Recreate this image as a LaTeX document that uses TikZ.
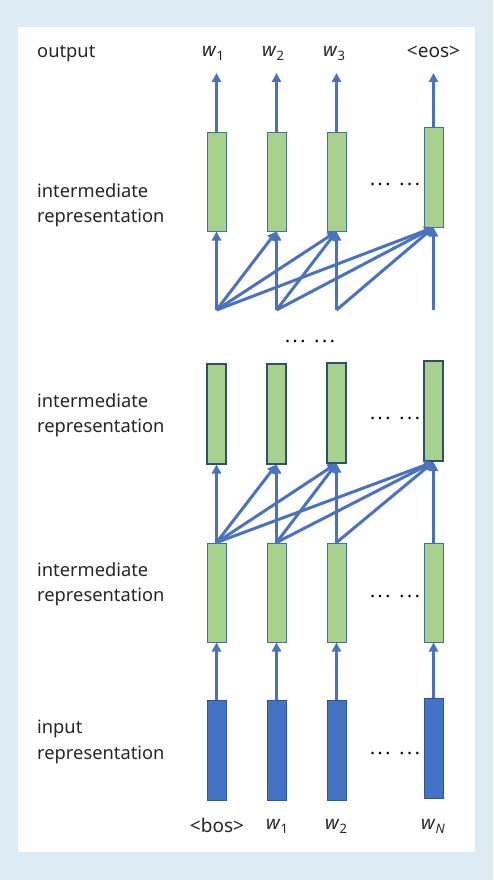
\documentclass[tikz,border=0pt]{standalone}
\usepackage{fontspec}
\setmainfont{Noto Sans}
\usetikzlibrary{arrows.meta}
\definecolor{bg}{HTML}{DDEBF5}
\definecolor{arr}{HTML}{4A72BE}
\definecolor{grn}{HTML}{A9D18E}
\definecolor{bord}{HTML}{41719C}
\definecolor{dbord}{HTML}{2F4F6F}
\definecolor{inp}{HTML}{4472C4}
\definecolor{inpb}{HTML}{2F5597}
\definecolor{txt}{HTML}{262626}
\tikzset{
  box/.style={rectangle, minimum width=19pt, minimum height=99pt, inner sep=0pt, fill=grn, draw=bord, line width=1pt},
  dbox/.style={box, draw=dbord, line width=2pt, minimum height=100pt},
  ibox/.style={rectangle, minimum width=19pt, minimum height=100pt, inner sep=0pt, fill=inp, draw=inpb, line width=0.8pt},
  conn/.style={draw=arr, line width=3pt, -{Triangle[width=9pt,length=9pt]}},
  lbl/.style={anchor=west, align=left, text=txt, font=\fontsize{18.3}{25.5}\selectfont, inner sep=0pt},
  wl/.style={text=txt, font=\fontsize{19}{22}\selectfont, inner sep=0pt},
  dots/.style={text=black, font=\fontsize{19}{20}\selectfont\bfseries, inner sep=0pt}
}
\newcommand{\wsub}[1]{\textit{w}\raisebox{-4pt}{\fontsize{13}{13}\selectfont #1}}
\newcommand{\dotgrp}{.\kern2.6pt.\kern2.6pt.}
\begin{document}
\begin{tikzpicture}[x=1pt,y=-1pt]
\fill[bg] (0,0) rectangle (493,880);
\fill[white] (18,27) rectangle (475,852);
\useasboundingbox (0,0) rectangle (493,880);

% left labels
\node[lbl] (lo) at (37,54) {output};
\node[lbl] (l1t) at (37,205) {intermediate\\representation};
\node[lbl] (l2t) at (37,415) {intermediate\\representation};
\node[lbl] (l3t) at (37,584) {intermediate\\representation};
\node[lbl] (l4t) at (37,742) {input\\representation};

% top boxes
\node[box] (t1) at (216.5,181.5) {};
\node[box] (t2) at (276.5,181.5) {};
\node[box] (t3) at (336.5,181.5) {};
\node[box] (t4) at (433.5,177.5) {};
% upper-mid boxes
\node[dbox] (u1) at (216.5,413.5) {};
\node[dbox] (u2) at (276.5,413.5) {};
\node[dbox] (u3) at (336.5,412.5) {};
\node[dbox] (u4) at (433.5,411) {};
% lower-mid boxes
\node[box] (m1) at (216.5,592.5) {};
\node[box] (m2) at (276.5,592.5) {};
\node[box] (m3) at (336.5,592.5) {};
\node[box] (m4) at (433.5,592.5) {};
% input boxes
\node[ibox] (i1) at (216.5,750) {};
\node[ibox] (i2) at (276.5,750) {};
\node[ibox] (i3) at (336.5,750) {};
\node[ibox] (i4) at (433.5,748) {};

% output labels
\node[wl] (w1) at (213,53) {\wsub{1}};
\node[wl] (w2) at (273,53) {\wsub{2}};
\node[wl] (w3) at (334,53) {\wsub{3}};
\node[wl] (weos) at (433.5,52) {<eos>};
% input labels
\node[wl] (bos) at (217,825) {<bos>};
\node[wl] (x1) at (277,826) {\wsub{1}};
\node[wl] (x2) at (336,826) {\wsub{2}};
\node[wl] (xn) at (433,826) {\wsub{\textit{N}}};

% output arrow endpoints
\coordinate (o1) at (216.5,73);
\coordinate (o2) at (276.5,73);
\coordinate (o3) at (336.5,73);
\coordinate (o4) at (433.5,73);
\draw[conn] (t1.north) -- (o1);
\draw[conn] (t2.north) -- (o2);
\draw[conn] (t3.north) -- (o3);
\draw[conn] (t4.north) -- (o4);

% sources below top boxes
\coordinate (s1) at (216.5,310);
\coordinate (s2) at (276.5,310);
\coordinate (s3) at (336.5,310);
\coordinate (s4) at (433.5,310);
\foreach \a/\b in {1/1,1/2,1/3,1/4,2/2,2/3,2/4,3/3,3/4,4/4}
  \draw[conn] (s\a) -- (t\b.south);

% lower-mid to upper-mid
\foreach \a/\b in {1/1,1/2,1/3,1/4,2/2,2/3,2/4,3/3,3/4,4/4}
  \draw[conn] (m\a.north) -- (u\b.south);

% input to lower-mid
\foreach \a in {1,2,3,4}
  \draw[conn] (i\a.north) -- (m\a.south);

% dots
\node[dots] (d0) at (310,341) {\dotgrp\hspace{9pt}\dotgrp};
\node[dots] (d1) at (395,184) {\dotgrp\hspace{9pt}\dotgrp};
\node[dots] (d2) at (395,418) {\dotgrp\hspace{9pt}\dotgrp};
\node[dots] (d3) at (395,596) {\dotgrp\hspace{9pt}\dotgrp};
\node[dots] (d4) at (395,753) {\dotgrp\hspace{9pt}\dotgrp};
\end{tikzpicture}
\end{document}
